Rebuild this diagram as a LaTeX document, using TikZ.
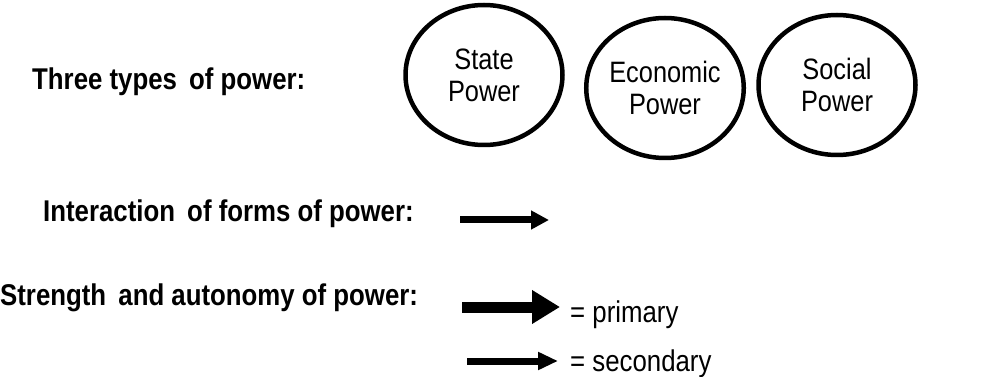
\documentclass[tikz,border=0pt]{standalone}
\usepackage{fontspec}
\setmainfont{Liberation Sans}[FakeStretch=0.86]
\usetikzlibrary{shapes.geometric,arrows.meta}

\tikzset{
  power/.style={ellipse, draw, line width=4.5pt, minimum width=157pt,
    minimum height=140pt, inner sep=0pt, align=center,
    font=\fontsize{29.5}{32}\selectfont},
  heading/.style={anchor=base west, inner sep=0pt,
    font=\fontsize{30}{34}\selectfont\bfseries},
  keytext/.style={anchor=base west, inner sep=0pt,
    font=\fontsize{30}{34}\selectfont},
  interact/.style={-{Triangle[length=18pt,width=18pt]}, line width=7pt},
  strong/.style={-{Triangle[length=28pt,width=32pt]}, line width=11pt},
  weak/.style={-{Triangle[length=20pt,width=17pt]}, line width=7pt}
}

\begin{document}
\begin{tikzpicture}[x=1pt,y=-1pt]
      \useasboundingbox (0,0) rectangle (997,377);
      \draw
        (484,75) node[power] (state){State\\Power}
        (665,88) node[power] (economic){Economic\\Power}
        (837,85) node[power] (social){Social\\Power};
      \draw
        (32,90) node[heading] (types){Three types\hspace{5pt} of power:}
        (43,222) node[heading] (interaction){Interaction\hspace{5pt} of forms of power:}
        (0,305) node[heading] (strength){Strength\hspace{5pt} and autonomy of power:}
        (570,322) node[keytext] (primary){= primary}
        (570,371) node[keytext] (secondary){= secondary};
      \coordinate (inter-a) at (460,220);
      \coordinate (inter-b) at (549,220);
      \coordinate (prim-a) at (462,307);
      \coordinate (prim-b) at (560,307);
      \coordinate (sec-a) at (467,361);
      \coordinate (sec-b) at (558,361);
      \begin{scope}
        \draw[interact] (inter-a) to (inter-b);
        \draw[strong] (prim-a) to (prim-b);
        \draw[weak] (sec-a) to (sec-b);
      \end{scope}
    \end{tikzpicture}
\end{document}
